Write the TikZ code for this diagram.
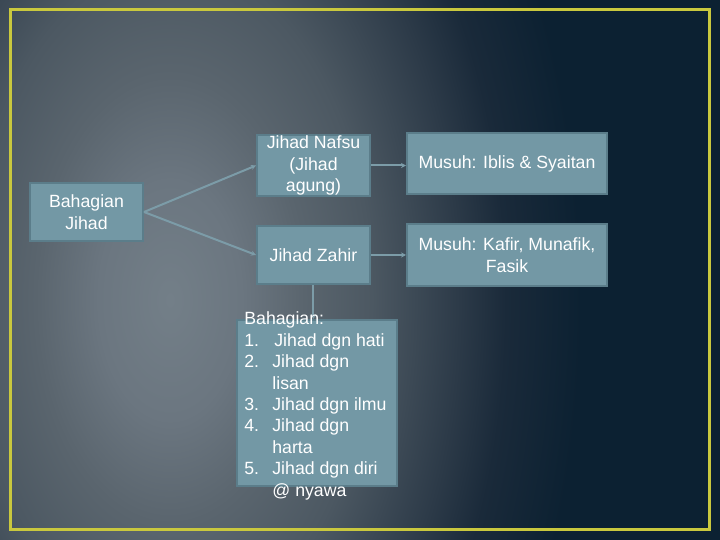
\documentclass[tikz,border=0pt]{standalone}
\usepackage{fontspec}
\setmainfont{Liberation Sans}
\usetikzlibrary{arrows.meta}

\definecolor{bgdark}{HTML}{0C2132}
\definecolor{glowA}{HTML}{737F88}
\definecolor{glowB}{HTML}{6B7680}
\definecolor{glowC}{HTML}{5A656E}
\definecolor{glowD}{HTML}{4C5862}
\definecolor{glowE}{HTML}{2C3A48}
\definecolor{glowF}{HTML}{1A2A3A}
\definecolor{glowG}{HTML}{0C2132}
\definecolor{boxfill}{HTML}{7398A5}
\definecolor{boxline}{HTML}{5B7D8A}
\definecolor{linkcol}{HTML}{7C9CA8}
\definecolor{framecol}{HTML}{C9C83E}

% the path's bounding box takes the middle 50bp of the shading
\pgfdeclareradialshading{bgglow}{\pgfpoint{0bp}{0bp}}{color(0bp)=(glowA); color(4.25bp)=(glowB); color(8bp)=(glowC); color(12bp)=(glowD); color(17.25bp)=(glowE); color(20bp)=(glowF); color(24.5bp)=(glowG); color(50bp)=(glowG)}

\begin{document}
\begin{tikzpicture}[x=0.5pt,y=-0.5pt,
    box/.style={draw=boxline,fill=boxfill,line width=1pt,text=white,align=center,inner sep=0pt,
      font=\fontsize{8.85}{10.9}\selectfont},
    link/.style={draw=linkcol,line width=1pt,-{Stealth[length=2.5pt,width=2.5pt]}}]
        \useasboundingbox (0,0) rectangle (720,540);
        \fill [bgdark] (0,0) rectangle (720,540);
        \begin{scope}
          \clip (0,0) rectangle (720,540);
          \shade [shading=bgglow] (170,300) ellipse (210pt and 350pt);
        \end{scope}
        \draw [framecol,line width=1.5pt] (11,10) rectangle (710,530);

        \node [box,minimum width=56.5pt,minimum height=29pt] at (86.5,212) (bahagian) {Bahagian\\Jihad};
        \node [box,minimum width=56.5pt,minimum height=30.5pt] at (313.5,165.5) (nafsu) {Jihad Nafsu\\(Jihad\\agung)};
        \node [box,minimum width=56.5pt,minimum height=29pt] at (313.5,255) (zahir) {Jihad Zahir};
        \node [box,minimum width=100pt,minimum height=30.5pt] at (507,163.5) (iblis) {Musuh: Iblis \& Syaitan};
        \node [box,minimum width=100pt,minimum height=31pt] at (507,255) (kafir) {Musuh: Kafir, Munafik,\\Fasik};
        \node [box,minimum width=80pt,minimum height=83pt] at (317,403) (listbox) {};

        \draw [link] (bahagian.east) -- (nafsu.west);
        \draw [link] (bahagian.east) -- (zahir.west);
        \draw [link] (nafsu.east) -- (nafsu.east -| iblis.west);
        \draw [link] (zahir.east) -- (zahir.east -| kafir.west);
        \draw [link] (zahir.south) -- (zahir.south |- listbox.north);

        \node [anchor=west,text=white,align=left,inner sep=0pt,
          font=\fontsize{8.85}{10.7}\selectfont] at (244,406) (listtext)
          {Bahagian:\\
           \makebox[15pt][l]{1.}Jihad dgn hati\\
           \makebox[14pt][l]{2.}Jihad dgn\\
           \makebox[14pt][l]{}lisan\\
           \makebox[14pt][l]{3.}Jihad dgn ilmu\\
           \makebox[14pt][l]{4.}Jihad dgn\\
           \makebox[14pt][l]{}harta\\
           \makebox[14pt][l]{5.}Jihad dgn diri\\
           \makebox[14pt][l]{}@ nyawa};
      \end{tikzpicture}
\end{document}
